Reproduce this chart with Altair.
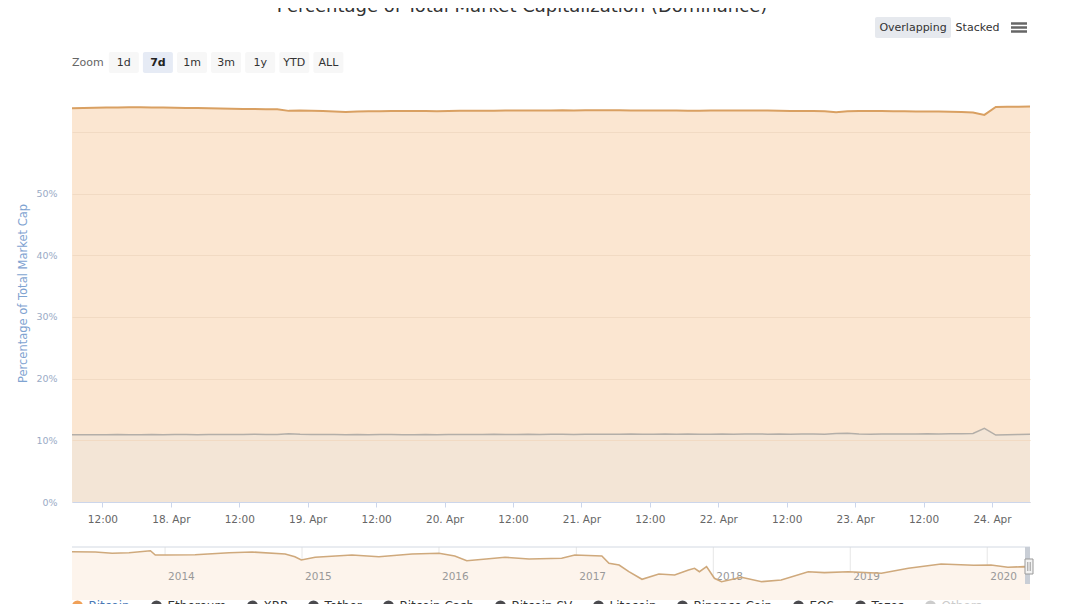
import altair as alt
import pandas as pd

FONT = "DejaVu Sans"

# ---------------- data ----------------
title_text = "Percentage of Total Market Capitalization (Dominance)"
y_title = "Percentage of Total Market Cap"

# 2-hour samples from 17 Apr 2020 06:40 UTC to 24 Apr 2020 06:40 UTC (% of total market cap)
btc_dominance = [
    63.81, 63.85, 63.90, 63.93, 63.95, 63.97, 63.99, 63.96, 63.94,
    63.92, 63.88, 63.86, 63.83, 63.78,
    63.74, 63.70, 63.71, 63.68, 63.66,
    63.40,
    63.45, 63.42, 63.38, 63.30, 63.22, 63.28, 63.33, 63.35, 63.37, 63.36,
    63.38, 63.37, 63.35, 63.38, 63.40, 63.42, 63.40, 63.43, 63.45, 63.44,
    63.46, 63.48, 63.47, 63.50, 63.48, 63.51, 63.52, 63.50, 63.49, 63.47,
    63.48, 63.45, 63.46, 63.44, 63.43, 63.42, 63.44, 63.46, 63.47, 63.48,
    63.47, 63.45, 63.42, 63.38, 63.37, 63.38, 63.35, 63.18, 63.33, 63.37,
    63.36, 63.38, 63.35, 63.32, 63.30, 63.31, 63.28, 63.26, 63.22, 63.15,
    62.75, 64.02, 64.05, 64.08, 64.10,
]
eth_dominance = [
    10.90, 10.92, 10.89, 10.91, 10.93, 10.90, 10.92, 10.94, 10.91, 10.93,
    10.95, 10.92, 10.94, 10.96, 10.93, 10.95, 10.97, 10.94, 10.96,
    11.05,
    10.97, 10.95, 10.93, 10.95, 10.92, 10.94, 10.91, 10.93, 10.95, 10.92,
    10.90, 10.93, 10.91, 10.94, 10.96, 10.93, 10.95, 10.97, 10.94, 10.96, 10.98,
    10.95, 10.97, 10.99, 10.96, 10.98, 11.00, 10.97, 10.99, 11.01, 10.98,
    11.00, 11.02, 10.99, 11.01, 10.98, 11.00, 11.02, 10.99, 11.01, 11.03,
    11.00, 11.02, 10.99, 11.01, 11.03, 11.00,
    11.10, 11.15,
    11.02, 11.00, 11.03, 11.01, 11.04, 11.02, 11.05, 11.03, 11.06, 11.08, 11.12,
    11.95,
    10.85, 10.90, 10.95, 10.97,
]
assert len(btc_dominance) == len(eth_dominance) == 85

# navigator: long-run Bitcoin dominance
nav_dates = [
    "2013-04-28", "2013-06-29", "2013-08-13", "2013-09-27", "2013-11-23", "2013-12-06",
    "2014-01-02", "2014-03-22", "2014-06-21", "2014-08-21", "2014-11-17", "2014-12-13",
    "2014-12-30", "2015-02-05", "2015-05-14", "2015-07-25", "2015-10-21", "2016-01-01",
    "2016-02-12", "2016-03-15", "2016-05-13", "2016-06-25", "2016-08-28", "2016-11-23",
    "2016-12-28", "2017-03-10", "2017-03-29", "2017-04-25", "2017-05-21", "2017-06-25",
    "2017-08-09", "2017-09-20", "2017-10-27", "2017-11-12", "2017-11-25", "2017-12-14",
    "2018-01-04", "2018-01-23", "2018-03-17", "2018-05-10", "2018-07-01", "2018-09-11",
    "2018-10-24", "2018-12-27", "2019-03-25", "2019-06-05", "2019-08-31", "2019-11-26",
    "2020-01-11", "2020-02-25", "2020-04-08", "2020-04-24",
]
nav_btc = [
    93.4, 92.8, 90.3, 91.5, 95.3, 87.0,
    87.0, 87.6, 91.5, 92.8, 89.0, 83.8,
    77.4, 82.6, 87.0, 83.8, 89.0, 90.3,
    85.1, 76.0, 79.9, 82.6, 79.3, 80.7,
    87.0, 85.1, 71.0, 67.7, 54.8, 40.1,
    50.4, 48.4, 58.1, 61.4, 54.8, 64.5,
    42.1, 35.5, 44.0, 35.5, 38.8, 54.8,
    52.9, 54.8, 51.7, 61.4, 69.7, 67.2,
    67.7, 63.3, 64.5, 64.0,
]
nav_years = [2014, 2015, 2016, 2017, 2018, 2019, 2020]

tick_days = [17, 18, 19, 20, 21, 22, 23, 24]
y_ticks = [0, 10, 20, 30, 40, 50, 60]

zoom_buttons = ["1d", "7d", "1m", "3m", "1y", "YTD", "ALL"]
selected_button = "7d"

legend_names = ["Bitcoin", "Ethereum", "XRP", "Tether", "Bitcoin Cash", "Bitcoin SV",
                "Litecoin", "Binance Coin", "EOS", "Tezos", "Others"]
legend_colors = ["#f0a057", "#4a4a4e", "#4a4a4e", "#4a4a4e", "#4a4a4e", "#4a4a4e",
                 "#4a4a4e", "#4a4a4e", "#4a4a4e", "#4a4a4e", "#cccccc"]

# ---------------- layout ----------------
W, H = 958, 401          # plot area (page x 72..1030, y 101..502)
NAV_TOP, NAV_BOT = 446, 483


def dt(y, m, d, h=0, mi=0):
    return alt.DateTime(year=y, month=m, date=d, hours=h, minutes=mi, utc=True)


times = pd.date_range("2020-04-17 06:40", periods=len(btc_dominance), freq="2h")
main_df = pd.DataFrame({
    "time": times.strftime("%Y-%m-%dT%H:%M:00Z"),
    "btc": btc_dominance,
    "eth": eth_dominance,
})

x_scale_main = alt.Scale(type="utc", domain=[dt(2020, 4, 17, 6, 40), dt(2020, 4, 24, 6, 40)])
tick_vals = [dt(2020, 4, d, h) for d in tick_days for h in (0, 12)
             if (d, h) > (17, 6) and (d, h) < (24, 6)]
x_axis_main = alt.Axis(
    values=tick_vals,
    labelExpr="utchours(datum.value) == 12 ? '12:00' : utcFormat(datum.value, '%d. %b')",
    grid=False, domainColor="#ccd6eb", tickColor="#ccd6eb", tickSize=5,
    labelColor="#666666", labelFontSize=10.5, labelFont=FONT, labelPadding=7,
    title=None, labelFlush=False, labelOverlap=False, zindex=1,
)
y_scale_main = alt.Scale(domain=[0, 65], nice=False, zero=True)
y_axis_main = alt.Axis(
    values=y_ticks,
    labelExpr="datum.value >= 60 ? '' : datum.value + '%'",
    grid=True, gridColor="#f1dac3", domain=False, ticks=False, tickSize=0,
    labelPadding=15, labelColor="#9aabc6", labelFontSize=9.5, labelFont=FONT,
    title=None, zindex=1,
)

xm = alt.X("time:T", scale=x_scale_main, axis=x_axis_main)
base = alt.Chart(main_df)
btc_area = base.mark_area(color="#fbe6d1").encode(
    x=xm, y=alt.Y("btc:Q", scale=y_scale_main, axis=y_axis_main))
eth_area = base.mark_area(color="#f3e5d6").encode(
    x=xm, y=alt.Y("eth:Q", scale=y_scale_main, axis=y_axis_main))
btc_line = base.mark_line(color="#d9a062", strokeWidth=2).encode(
    x=xm, y=alt.Y("btc:Q", scale=y_scale_main, axis=y_axis_main))
eth_line = base.mark_line(color="#b3aea8", strokeWidth=1.5).encode(
    x=xm, y=alt.Y("eth:Q", scale=y_scale_main, axis=y_axis_main))
main = alt.layer(btc_area, eth_area, btc_line, eth_line)

one = pd.DataFrame({"k": [0]})


def label(text, x, y, size=11, color="#333333", align="center", weight="normal",
          baseline="middle", angle=0):
    return alt.Chart(pd.DataFrame({"t": [text]})).mark_text(
        align=align, baseline=baseline, fontSize=size, color=color,
        fontWeight=weight, font=FONT, angle=angle,
    ).encode(x=alt.value(x), y=alt.value(y), text="t:N")


def box(x1, x2, y1, y2, fill, stroke=None, radius=0):
    kw = dict(color=fill, cornerRadius=radius)
    if stroke:
        kw.update(stroke=stroke, strokeWidth=1)
    return alt.Chart(one).mark_rect(**kw).encode(
        x=alt.value(x1), x2=alt.value(x2), y=alt.value(y1), y2=alt.value(y2))


def hline(x1, x2, y, color, width=1):
    return alt.Chart(one).mark_rule(color=color, strokeWidth=width).encode(
        x=alt.value(x1), x2=alt.value(x2), y=alt.value(y))


def vline(x, y1, y2, color, width=1):
    return alt.Chart(one).mark_rule(color=color, strokeWidth=width).encode(
        x=alt.value(x), y=alt.value(y1), y2=alt.value(y2))


title = label(title_text, 450, -89, size=18, color="#333333", baseline="alphabetic")
ytitle = label(y_title, -48, 192.5, size=11.5, color="#7fa3d1", angle=270)
zoom_lbl = label("Zoom", 0, -38.5, size=11, color="#666666", align="left")

btn_base = alt.Chart(pd.DataFrame({"label": zoom_buttons, "i": list(range(len(zoom_buttons)))})
                     ).transform_calculate(
    cx="51.8 + 34.1 * datum.i", bx1="datum.cx - 15", bx2="datum.cx + 15",
    sel=f"datum.label == '{selected_button}'")
btn_rect = btn_base.mark_rect(cornerRadius=2).encode(
    x=alt.X("bx1:Q", scale=None, axis=None), x2="bx2:Q",
    y=alt.value(-49), y2=alt.value(-28),
    color=alt.condition("datum.sel", alt.value("#e6ebf5"), alt.value("#f7f7f7")))
btn_txt = btn_base.transform_filter("!datum.sel").mark_text(
    fontSize=11, font=FONT, color="#333333", baseline="middle").encode(
    x=alt.X("cx:Q", scale=None, axis=None), y=alt.value(-38.5), text="label:N")
btn_txt_sel = btn_base.transform_filter("datum.sel").mark_text(
    fontSize=11, font=FONT, color="#222222", baseline="middle", fontWeight="bold").encode(
    x=alt.X("cx:Q", scale=None, axis=None), y=alt.value(-38.5), text="label:N")

ov_rect = box(803, 879, -84, -63, "#e6e9ee", radius=2)
ov_txt = label("Overlapping", 841, -73, size=11)
st_txt = label("Stacked", 905.5, -73, size=11)
burger = [hline(939, 955, yy, "#666666", 2.5) for yy in (-77.5, -73.5, -69.5)]

# ---------------- navigator ----------------
nav_df = pd.DataFrame({"date": nav_dates, "v": nav_btc})
years_df = pd.DataFrame({"date": [f"{y}-01-01" for y in nav_years],
                         "lab": [str(y) for y in nav_years]})
nav_x = alt.Scale(type="utc", domain=[dt(2013, 4, 28), dt(2020, 4, 24)], range=[0, W])
nav_y = alt.Scale(domain=[31, 102.5], range=[NAV_BOT, NAV_TOP], zero=False, nice=False)

nav_grid = alt.Chart(years_df).mark_rule(color="#e6e6e6").encode(
    x=alt.X("date:T", scale=nav_x, axis=None), y=alt.value(NAV_TOP), y2=alt.value(NAV_BOT))
nav_area = alt.Chart(nav_df).mark_area(color="#fdf4ec").encode(
    x=alt.X("date:T", scale=nav_x, axis=None),
    y=alt.Y("v:Q", scale=nav_y, axis=None), y2=alt.value(NAV_BOT))
nav_lab = alt.Chart(years_df).mark_text(
    align="left", baseline="middle", dx=3, fontSize=10.5, font=FONT, color="#999999").encode(
    x=alt.X("date:T", scale=nav_x, axis=None), y=alt.value(476), text="lab:N")
nav_line = alt.Chart(nav_df).mark_line(color="#cfa97c", strokeWidth=1.6).encode(
    x=alt.X("date:T", scale=nav_x, axis=None), y=alt.Y("v:Q", scale=nav_y, axis=None))
nav_outline = hline(0, W, NAV_TOP, "#d3d9e2", 1)
nav_band = box(953, 958, NAV_TOP, NAV_BOT, "#c9ced6")
nav_handle = box(953, 961, 458, 473, "#f2f2f2", stroke="#999999")
nav_h1 = vline(955.8, 461, 470, "#999999")
nav_h2 = vline(958.2, 461, 470, "#999999")

# ---------------- legend ----------------
legend_dummy = alt.Chart(pd.DataFrame({"name": legend_names})).mark_point(
    filled=True, opacity=1, size=121).encode(
    x=alt.value(-900), y=alt.value(-900),
    color=alt.Color("name:N", scale=alt.Scale(domain=legend_names, range=legend_colors),
                    legend=alt.Legend(
                        orient="none", legendX=-0.5, legendY=499, direction="horizontal",
                        title=None, symbolType="circle", symbolSize=121, symbolStrokeWidth=0,
                        labelFontSize=12, labelFont=FONT,
                        labelColor={"expr": "datum.label == 'Others' ? '#cccccc' : (datum.label == 'Bitcoin' ? '#4a78b5' : '#333333')"},
                        columnPadding=20, labelOffset=5, padding=0)))

layers = [main, title, ytitle, zoom_lbl, btn_rect, btn_txt, btn_txt_sel, ov_rect, ov_txt, st_txt]
layers += burger
layers += [nav_grid, nav_area, nav_lab, nav_line, nav_outline, nav_band, nav_handle,
           nav_h1, nav_h2, legend_dummy]

chart = alt.layer(*layers).resolve_scale(
    x="independent", y="independent", color="independent"
).properties(
    width=W, height=H,
    autosize=alt.AutoSizeParams(type="none"),
    padding={"left": 64, "top": 93, "right": 10, "bottom": 104},
).configure_view(stroke=None)

chart.save("out.html", embed_options={"renderer": "svg", "actions": False})
